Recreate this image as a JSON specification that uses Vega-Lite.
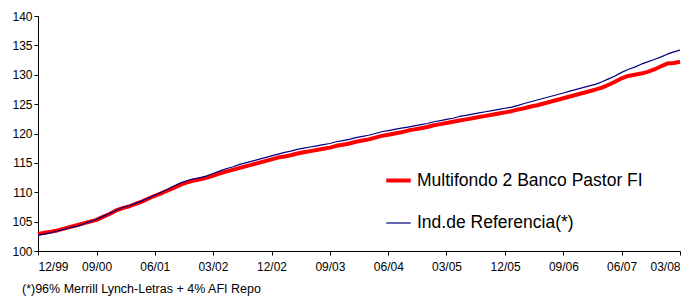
{
  "$schema": "https://vega.github.io/schema/vega-lite/v6.json",
  "width": 642,
  "height": 235,
  "autosize": "none",
  "padding": {"left": 38, "top": 16, "right": 17, "bottom": 45},
  "background": "white",
  "config": {
    "font": "Liberation Sans",
    "view": {"stroke": null},
    "axis": {"grid": false, "domainColor": "#000", "tickColor": "#000", "labelColor": "#000", "labelFont": "Liberation Sans", "labelFontSize": 12, "tickSize": 4, "domainWidth": 1, "tickWidth": 1}
  },
  "title": {
    "text": "(*)96% Merrill Lynch-Letras + 4% AFI Repo",
    "orient": "bottom",
    "anchor": "start",
    "dx": 10,
    "offset": 11,
    "font": "Liberation Sans",
    "fontSize": 12.5,
    "fontWeight": "normal",
    "color": "#000"
  },
  "data": {
    "values": [
      {"d": "1999-12-01", "r": 102.9, "b": 102.7},
      {"d": "2000-01-01", "r": 103.1, "b": 102.9},
      {"d": "2000-02-01", "r": 103.3, "b": 103.1},
      {"d": "2000-03-01", "r": 103.5, "b": 103.4},
      {"d": "2000-04-01", "r": 103.8, "b": 103.7},
      {"d": "2000-05-01", "r": 104.1, "b": 104.0},
      {"d": "2000-06-01", "r": 104.4, "b": 104.2},
      {"d": "2000-07-01", "r": 104.7, "b": 104.6},
      {"d": "2000-08-01", "r": 105.0, "b": 105.0},
      {"d": "2000-09-01", "r": 105.3, "b": 105.4},
      {"d": "2000-10-01", "r": 105.8, "b": 105.9},
      {"d": "2000-11-01", "r": 106.3, "b": 106.4},
      {"d": "2000-12-01", "r": 106.9, "b": 106.9},
      {"d": "2001-01-01", "r": 107.3, "b": 107.4},
      {"d": "2001-02-01", "r": 107.6, "b": 107.7},
      {"d": "2001-03-01", "r": 108.0, "b": 108.1},
      {"d": "2001-04-01", "r": 108.4, "b": 108.5},
      {"d": "2001-05-01", "r": 108.9, "b": 109.0},
      {"d": "2001-06-01", "r": 109.4, "b": 109.5},
      {"d": "2001-07-01", "r": 109.8, "b": 110.0},
      {"d": "2001-08-01", "r": 110.3, "b": 110.5},
      {"d": "2001-09-01", "r": 110.8, "b": 111.1},
      {"d": "2001-10-01", "r": 111.3, "b": 111.6},
      {"d": "2001-11-01", "r": 111.7, "b": 112.0},
      {"d": "2001-12-01", "r": 112.0, "b": 112.3},
      {"d": "2002-01-01", "r": 112.2, "b": 112.5},
      {"d": "2002-02-01", "r": 112.5, "b": 112.8},
      {"d": "2002-03-01", "r": 112.8, "b": 113.2},
      {"d": "2002-04-01", "r": 113.2, "b": 113.6},
      {"d": "2002-05-01", "r": 113.5, "b": 114.0},
      {"d": "2002-06-01", "r": 113.8, "b": 114.3},
      {"d": "2002-07-01", "r": 114.1, "b": 114.7},
      {"d": "2002-08-01", "r": 114.4, "b": 115.0},
      {"d": "2002-09-01", "r": 114.7, "b": 115.3},
      {"d": "2002-10-01", "r": 115.0, "b": 115.6},
      {"d": "2002-11-01", "r": 115.3, "b": 115.9},
      {"d": "2002-12-01", "r": 115.6, "b": 116.2},
      {"d": "2003-01-01", "r": 115.9, "b": 116.5},
      {"d": "2003-02-01", "r": 116.1, "b": 116.8},
      {"d": "2003-03-01", "r": 116.3, "b": 117.0},
      {"d": "2003-04-01", "r": 116.6, "b": 117.3},
      {"d": "2003-05-01", "r": 116.8, "b": 117.5},
      {"d": "2003-06-01", "r": 117.0, "b": 117.7},
      {"d": "2003-07-01", "r": 117.2, "b": 117.9},
      {"d": "2003-08-01", "r": 117.4, "b": 118.1},
      {"d": "2003-09-01", "r": 117.6, "b": 118.3},
      {"d": "2003-10-01", "r": 117.9, "b": 118.6},
      {"d": "2003-11-01", "r": 118.1, "b": 118.8},
      {"d": "2003-12-01", "r": 118.3, "b": 119.0},
      {"d": "2004-01-01", "r": 118.6, "b": 119.3},
      {"d": "2004-02-01", "r": 118.8, "b": 119.5},
      {"d": "2004-03-01", "r": 119.0, "b": 119.7},
      {"d": "2004-04-01", "r": 119.3, "b": 120.0},
      {"d": "2004-05-01", "r": 119.6, "b": 120.3},
      {"d": "2004-06-01", "r": 119.8, "b": 120.5},
      {"d": "2004-07-01", "r": 120.0, "b": 120.7},
      {"d": "2004-08-01", "r": 120.2, "b": 120.9},
      {"d": "2004-09-01", "r": 120.5, "b": 121.1},
      {"d": "2004-10-01", "r": 120.7, "b": 121.3},
      {"d": "2004-11-01", "r": 120.9, "b": 121.5},
      {"d": "2004-12-01", "r": 121.1, "b": 121.7},
      {"d": "2005-01-01", "r": 121.4, "b": 122.0},
      {"d": "2005-02-01", "r": 121.6, "b": 122.2},
      {"d": "2005-03-01", "r": 121.8, "b": 122.4},
      {"d": "2005-04-01", "r": 122.0, "b": 122.6},
      {"d": "2005-05-01", "r": 122.2, "b": 122.9},
      {"d": "2005-06-01", "r": 122.4, "b": 123.1},
      {"d": "2005-07-01", "r": 122.6, "b": 123.3},
      {"d": "2005-08-01", "r": 122.8, "b": 123.5},
      {"d": "2005-09-01", "r": 123.0, "b": 123.7},
      {"d": "2005-10-01", "r": 123.2, "b": 123.9},
      {"d": "2005-11-01", "r": 123.4, "b": 124.1},
      {"d": "2005-12-01", "r": 123.6, "b": 124.3},
      {"d": "2006-01-01", "r": 123.8, "b": 124.5},
      {"d": "2006-02-01", "r": 124.1, "b": 124.8},
      {"d": "2006-03-01", "r": 124.3, "b": 125.1},
      {"d": "2006-04-01", "r": 124.6, "b": 125.4},
      {"d": "2006-05-01", "r": 124.8, "b": 125.7},
      {"d": "2006-06-01", "r": 125.1, "b": 126.0},
      {"d": "2006-07-01", "r": 125.4, "b": 126.3},
      {"d": "2006-08-01", "r": 125.7, "b": 126.6},
      {"d": "2006-09-01", "r": 126.0, "b": 126.9},
      {"d": "2006-10-01", "r": 126.3, "b": 127.2},
      {"d": "2006-11-01", "r": 126.6, "b": 127.5},
      {"d": "2006-12-01", "r": 126.9, "b": 127.8},
      {"d": "2007-01-01", "r": 127.2, "b": 128.1},
      {"d": "2007-02-01", "r": 127.5, "b": 128.4},
      {"d": "2007-03-01", "r": 127.8, "b": 128.8},
      {"d": "2007-04-01", "r": 128.3, "b": 129.3},
      {"d": "2007-05-01", "r": 128.8, "b": 129.8},
      {"d": "2007-06-01", "r": 129.4, "b": 130.4},
      {"d": "2007-07-01", "r": 129.8, "b": 130.9},
      {"d": "2007-08-01", "r": 130.0, "b": 131.3},
      {"d": "2007-09-01", "r": 130.2, "b": 131.8},
      {"d": "2007-10-01", "r": 130.5, "b": 132.2},
      {"d": "2007-11-01", "r": 130.9, "b": 132.6},
      {"d": "2007-12-01", "r": 131.4, "b": 133.0},
      {"d": "2008-01-01", "r": 131.9, "b": 133.5},
      {"d": "2008-02-01", "r": 132.0, "b": 133.9},
      {"d": "2008-03-01", "r": 132.2, "b": 134.2}
    ]
  },
  "transform": [
    {"fold": ["r", "b"], "as": ["serie", "valor"]}
  ],
  "mark": {"type": "line", "strokeCap": "butt", "strokeJoin": "round"},
  "encoding": {
    "x": {
      "field": "d",
      "type": "temporal",
      "scale": {"type": "utc", "domain": [{"year": 1999, "month": 12, "date": 1, "utc": true}, {"year": 2008, "month": 3, "date": 1, "utc": true}]},
      "axis": {
        "title": null,
        "labelExpr": "utcFormat(datum.value, '%m/%y')",
        "labelPadding": 6,
        "labelOverlap": false,
        "values": [
          {"year": 1999, "month": 12, "date": 1, "utc": true},
          {"year": 2000, "month": 9, "date": 1, "utc": true},
          {"year": 2001, "month": 6, "date": 1, "utc": true},
          {"year": 2002, "month": 3, "date": 1, "utc": true},
          {"year": 2002, "month": 12, "date": 1, "utc": true},
          {"year": 2003, "month": 9, "date": 1, "utc": true},
          {"year": 2004, "month": 6, "date": 1, "utc": true},
          {"year": 2005, "month": 3, "date": 1, "utc": true},
          {"year": 2005, "month": 12, "date": 1, "utc": true},
          {"year": 2006, "month": 9, "date": 1, "utc": true},
          {"year": 2007, "month": 6, "date": 1, "utc": true},
          {"year": 2008, "month": 3, "date": 1, "utc": true}
        ]
      }
    },
    "y": {
      "field": "valor",
      "type": "quantitative",
      "scale": {"domain": [100, 140], "zero": false, "nice": false},
      "axis": {"title": null, "values": [100, 105, 110, 115, 120, 125, 130, 135, 140], "labelPadding": 2}
    },
    "color": {
      "field": "serie",
      "type": "nominal",
      "scale": {"domain": ["r", "b"], "range": ["#ff0000", "#000080"]},
      "legend": {
        "title": null,
        "orient": "none",
        "legendX": 346,
        "legendY": 150,
        "padding": 0,
        "symbolType": "stroke",
        "symbolSize": 600,
        "labelFont": "Liberation Sans",
        "labelFontSize": 17.5,
        "labelColor": "#000",
        "labelOffset": 4,
        "labelLimit": 400,
        "rowPadding": 21,
        "labelExpr": "datum.label == 'r' ? 'Multifondo 2 Banco Pastor FI' : 'Ind.de Referencia(*)'"
      }
    },
    "strokeWidth": {
      "field": "serie",
      "type": "nominal",
      "scale": {"domain": ["r", "b"], "range": [4, 1.2]},
      "legend": null
    }
  }
}
